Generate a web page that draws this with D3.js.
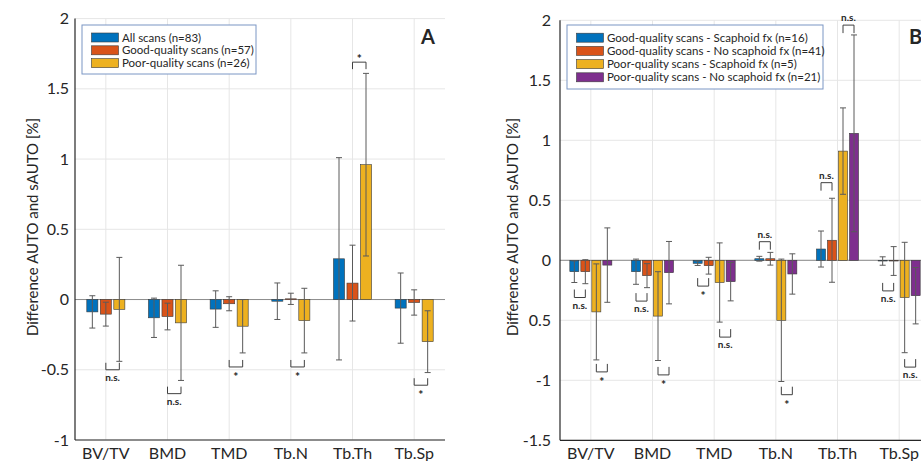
<!DOCTYPE html>
<html><head><meta charset="utf-8">
<script src="https://cdn.jsdelivr.net/npm/d3@7"></script>
<style>
body{margin:0;background:#fff}
text{font-family:Lato,"Open Sans",sans-serif;fill:#262626}
</style></head>
<body><svg id="chart" width="921" height="461"></svg>
<script>
// ---------- data ----------
const categories = ["BV/TV","BMD","TMD","Tb.N","Tb.Th","Tb.Sp"];

// Panel A
const seriesNamesA = ["All scans (n=83)","Good-quality scans (n=57)","Poor-quality scans (n=26)"];
const allScansMean  = [-0.088,-0.130,-0.068,-0.012,0.290,-0.061];
const allScansErr   = [ 0.115, 0.140, 0.130, 0.130,0.720, 0.250];
const goodScansMean = [-0.104,-0.121,-0.030, 0.005,0.117,-0.021];
const goodScansErr  = [ 0.085, 0.095, 0.050, 0.040,0.270, 0.090];
const poorScansMean = [-0.070,-0.166,-0.190,-0.150,0.960,-0.300];
const poorScansErr  = [ 0.370, 0.410, 0.190, 0.230,0.650, 0.220];
const yTicksA = [2,1.5,1,0.5,0,-0.5,-1];
const yTickLabelsA = ["2","1.5","1","0.5","0","-0.5","-1"];
// significance brackets A: category, series from/to, bracket level, direction, label
const sigCatA   = ["BV/TV","BMD","TMD","Tb.N","Tb.Th","Tb.Sp"];
const sigLevelA = [-0.50,-0.67,-0.48,-0.48,1.69,-0.61];
const sigDirA   = ["down","down","down","down","up","down"];
const sigLabelA = ["n.s.","n.s.","*","*","*","*"];

// Panel B
const seriesNamesB = ["Good-quality scans - Scaphoid fx (n=16)","Good-quality scans - No scaphoid fx (n=41)",
                      "Poor-quality scans - Scaphoid fx (n=5)","Poor-quality scans - No scaphoid fx (n=21)"];
const goodFxMean   = [-0.095,-0.095,-0.025, 0.013,0.094,-0.006];
const goodFxErr    = [ 0.090, 0.105, 0.018, 0.020,0.150, 0.035];
const goodNoFxMean = [-0.095,-0.128,-0.045, 0.013,0.167,-0.006];
const goodNoFxErr  = [ 0.100, 0.100, 0.070, 0.053,0.350, 0.120];
const poorFxMean   = [-0.430,-0.465,-0.185,-0.500,0.910,-0.310];
const poorFxErr    = [ 0.400, 0.370, 0.330, 0.510,0.360, 0.460];
const poorNoFxMean = [-0.040,-0.103,-0.178,-0.114,1.058,-0.295];
const poorNoFxErr  = [ 0.310, 0.260, 0.160, 0.168,0.820, 0.235];
const yTicksB = [2,1.5,1,0.5,0,-0.5,-1,-1.5];
const yTickLabelsB = ["2","1.5","1","0.5","0","0.5","-1","-1.5"];
const sigCatB   = ["BV/TV","BV/TV","BMD","BMD","TMD","TMD","Tb.N","Tb.N","Tb.Th","Tb.Th","Tb.Sp","Tb.Sp"];
const sigFromB  = [0,2,0,2,0,2,0,2,0,2,0,2];
const sigLevelB = [-0.31,-0.93,-0.34,-0.955,-0.215,-0.64,0.155,-1.12,0.647,1.96,-0.255,-0.89];
const sigDirB   = ["down","down","down","down","down","down","up","down","up","up","down","down"];
const sigLabelB = ["n.s.","*","n.s.","*","*","n.s.","n.s.","*","n.s.","n.s.","n.s.","n.s."];

const colors = ["#0072BD","#D95319","#EDB120","#7E2F8E"];

// ---------- drawing ----------
const svg = d3.select("#chart");
svg.append("rect").attr("width",921).attr("height",461).attr("fill","#fff");

function drawPanel(cfg){
  const g = svg.append("g");
  const x = d3.scaleBand().domain(categories).range(cfg.xRange).padding(0);
  const y = d3.scaleLinear().domain(cfg.yDomain).range(cfg.yRange);
  const n = cfg.means.length;
  const pin = 0.18;
  const half = cfg.step*(n-pin)/2;
  const xs = d3.scaleBand().domain(d3.range(n)).range([-half,half]).paddingInner(pin).paddingOuter(0);
  const cx = (c,i)=> x(c)+x.bandwidth()/2 + xs(i) + xs.bandwidth()/2;

  // grid
  g.selectAll(".hg").data(cfg.yTicks).join("line")
    .attr("x1",cfg.xRange[0]).attr("x2",cfg.xRange[1])
    .attr("y1",d=>y(d)).attr("y2",d=>y(d))
    .attr("stroke","#e6e6e6").attr("stroke-width",1);
  g.selectAll(".vg").data(categories).join("line")
    .attr("x1",d=>x(d)+x.bandwidth()/2).attr("x2",d=>x(d)+x.bandwidth()/2)
    .attr("y1",cfg.yRange[0]).attr("y2",cfg.yRange[1])
    .attr("stroke","#e6e6e6").attr("stroke-width",1);

  // zero baseline
  g.append("line").attr("x1",cfg.xRange[0]).attr("x2",cfg.xRange[1])
    .attr("y1",y(0)).attr("y2",y(0)).attr("stroke","#8c8c8c").attr("stroke-width",1);

  // bars
  cfg.means.forEach((arr,i)=>{
    g.selectAll(".bar"+i).data(arr).join("rect")
      .attr("x",(d,k)=>cx(categories[k],i)-xs.bandwidth()/2)
      .attr("width",xs.bandwidth())
      .attr("y",d=>y(Math.max(0,d)))
      .attr("height",d=>Math.abs(y(d)-y(0)))
      .attr("fill",colors[i]).attr("stroke","#3a3a3a").attr("stroke-width",0.6);
  });
  // error bars
  cfg.means.forEach((arr,i)=>{
    const errs = cfg.errs[i];
    arr.forEach((m,k)=>{
      const xc = cx(categories[k],i), e = errs[k];
      const eg = g.append("g").attr("stroke","#5a5a5a").attr("stroke-width",1);
      eg.append("line").attr("x1",xc).attr("x2",xc).attr("y1",y(m-e)).attr("y2",y(m+e));
      eg.append("line").attr("x1",xc-3).attr("x2",xc+3).attr("y1",y(m-e)).attr("y2",y(m-e));
      eg.append("line").attr("x1",xc-3).attr("x2",xc+3).attr("y1",y(m+e)).attr("y2",y(m+e));
    });
  });

  // significance brackets
  cfg.sigCat.forEach((c,j)=>{
    const f = cfg.sigFrom[j], t = f+1;
    const x1 = cx(c,f), x2 = cx(c,t), yl = y(cfg.sigLevel[j]);
    const h = cfg.bh, up = cfg.sigDir[j]==="up";
    const s = up ? 1 : -1;
    g.append("path").attr("d",`M${x1},${yl+s*h}V${yl}H${x2}V${yl+s*h}`)
      .attr("fill","none").attr("stroke","#404040").attr("stroke-width",1);
    const lab = cfg.sigLabel[j], star = lab==="*";
    let ty;
    if(up) ty = star ? yl+1 : yl-4;
    else ty = star ? yl+14 : yl+11;
    g.append("text").attr("x",(x1+x2)/2).attr("y",ty).attr("text-anchor","middle")
      .attr("font-size",star?12:10).attr("font-weight","bold").text(lab);
  });

  // axes lines
  g.append("line").attr("x1",cfg.xRange[0]).attr("x2",cfg.xRange[0])
    .attr("y1",cfg.yRange[0]).attr("y2",cfg.yRange[1]).attr("stroke","#262626").attr("stroke-width",1.2);
  g.append("line").attr("x1",cfg.xRange[0]).attr("x2",cfg.xRange[1])
    .attr("y1",cfg.yRange[0]).attr("y2",cfg.yRange[0]).attr("stroke","#262626").attr("stroke-width",1.2);

  // y axis labels
  const ya = d3.axisLeft(y).tickValues(cfg.yTicks)
      .tickFormat((d,k)=>cfg.yTickLabels[k]).tickSize(0).tickPadding(cfg.tickPad);
  const ag = g.append("g").attr("transform",`translate(${cfg.xRange[0]},0)`).call(ya);
  ag.select(".domain").remove();
  ag.selectAll("text").attr("font-size",16).attr("fill","#262626").style("font-family","Lato");

  // x axis labels
  const xa = d3.axisBottom(x).tickSize(0).tickPadding(0);
  const xg = g.append("g").attr("transform",`translate(0,${cfg.yRange[0]})`).call(xa);
  xg.select(".domain").remove();
  xg.selectAll("text").attr("font-size",16).attr("fill","#262626").attr("dy",null).attr("y",19).style("font-family","Lato");

  // y title
  g.append("text").attr("transform",`translate(${cfg.yTitleX},${cfg.yTitleY}) rotate(-90)`)
    .attr("text-anchor","middle").attr("font-size",15).text("Difference AUTO and sAUTO [%]");

  // panel letter
  g.append("text").attr("x",cfg.letterX).attr("y",44).attr("font-size",20).attr("font-weight","bold")
    .attr("fill","#111").text(cfg.letter);

  // legend
  const L = cfg.legend;
  g.append("rect").attr("x",L.x).attr("y",L.y).attr("width",L.w).attr("height",L.h)
    .attr("fill","#fff").attr("stroke","#7b96c4").attr("stroke-width",1);
  cfg.names.forEach((nm,i)=>{
    const ry = L.y + L.first + i*L.gap;
    g.append("rect").attr("x",L.x+9.5).attr("y",ry-4.5).attr("width",27).attr("height",9)
      .attr("fill",colors[i]).attr("stroke","#3a3a3a").attr("stroke-width",0.6);
    g.append("text").attr("x",L.x+40).attr("y",ry+4).attr("font-size",11.5).text(nm);
  });
}

drawPanel({
  xRange:[75,445], yDomain:[-1,2], yRange:[440,18.6], step:13.5, bh:7, tickPad:6,
  means:[allScansMean,goodScansMean,poorScansMean], errs:[allScansErr,goodScansErr,poorScansErr],
  names:seriesNamesA, yTicks:yTicksA, yTickLabels:yTickLabelsA,
  sigCat:sigCatA, sigFrom:sigCatA.map(()=>1), sigLevel:sigLevelA, sigDir:sigDirA, sigLabel:sigLabelA,
  yTitleX:38, yTitleY:227, letter:"A", letterX:421,
  legend:{x:82,y:25,w:174,h:49,first:12.5,gap:12.8}
});
drawPanel({
  xRange:[560,930], yDomain:[-1.5,2], yRange:[440.3,20.3], step:11, bh:8, tickPad:9,
  means:[goodFxMean,goodNoFxMean,poorFxMean,poorNoFxMean], errs:[goodFxErr,goodNoFxErr,poorFxErr,poorNoFxErr],
  names:seriesNamesB, yTicks:yTicksB, yTickLabels:yTickLabelsB,
  sigCat:sigCatB, sigFrom:sigFromB, sigLevel:sigLevelB, sigDir:sigDirB, sigLabel:sigLabelB,
  yTitleX:518, yTitleY:227, letter:"B", letterX:909,
  legend:{x:567,y:25,w:256,h:64,first:12.7,gap:13.2}
});
</script></body></html>
